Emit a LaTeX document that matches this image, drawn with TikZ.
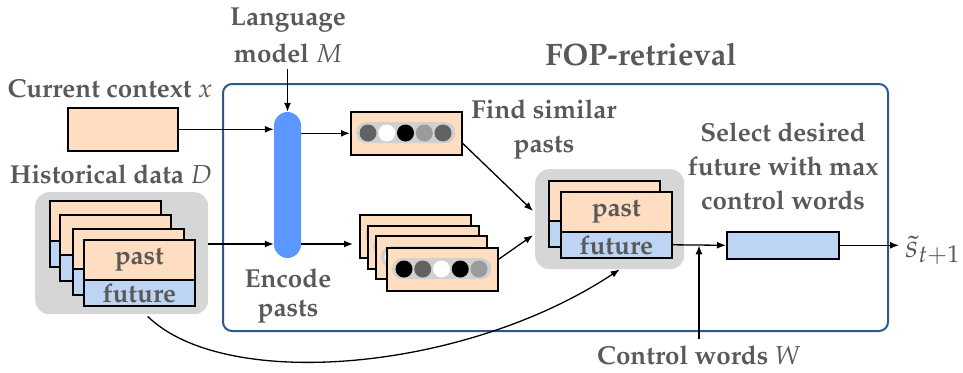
\documentclass[tikz,border=0pt]{standalone}
\usepackage[T1]{fontenc}
\usepackage{mathpazo}
\usetikzlibrary{arrows.meta,calc}
\definecolor{peach}{HTML}{FFDDC1}
\definecolor{futblue}{HTML}{BDD4F2}
\definecolor{pillblue}{HTML}{5B97FF}
\definecolor{fopblue}{HTML}{2D5A8B}
\definecolor{boxgray}{HTML}{D6D6D6}
\definecolor{bargray}{HTML}{D0D0D0}
\definecolor{tgray}{HTML}{595959}
\definecolor{cdk}{HTML}{626262}
\definecolor{cmid}{HTML}{9B9B9B}
\newcommand{\enccardat}[4]{%
  \node[enccard] (#1) at (#2,#3) {};
  \node[barbox] (#1bar) at (#2+6,#3+11) {};
  \foreach \cl [count=\k from 0] in {#4}
    \node[dotc, fill=\cl] (#1d\k) at (#2+18+\k*18.75,#3+22) {};
}
\newcommand{\histcardat}[5]{%
  \node[pastbox] (#1p) at (#2,#3) {#4};
  \node[futbox] (#1f) at (#2,#3+40) {#5};
}
\begin{document}
\begin{tikzpicture}[x=1pt,y=-1pt,
  txt/.style={text=tgray, font=\fontsize{26}{34}\selectfont\bfseries, align=center, inner sep=0pt},
  pastbox/.style={draw=black, line width=1.6pt, fill=peach, minimum width=111pt, minimum height=40pt,
    anchor=north west, inner sep=0pt, text=tgray, font=\fontsize{26}{30}\selectfont\bfseries},
  futbox/.style={pastbox, fill=futblue, minimum height=26pt},
  enccard/.style={draw=black, line width=1.6pt, fill=peach, minimum width=111pt, minimum height=43pt,
    anchor=north west, inner sep=0pt},
  barbox/.style={fill=bargray, rounded corners=10pt, minimum width=99pt, minimum height=21pt,
    anchor=north west, inner sep=0pt},
  dotc/.style={circle, minimum size=17pt, inner sep=0pt},
  graybox/.style={fill=boxgray, rounded corners=14pt, anchor=north west, inner sep=0pt},
  arr/.style={-{Latex[length=9pt,width=7pt]}, line width=1.3pt}]
\useasboundingbox (0,0) rectangle (963,372);

% FOP box
\node[draw=fopblue, line width=2pt, rounded corners=9pt, minimum width=665pt, minimum height=247pt,
  anchor=north west, inner sep=0pt] (fop) at (222,83) {};

% labels
\node[txt, anchor=north] (lang) at (288,8) {Language\\[3pt]model $M$};
\node[txt, font=\fontsize{31}{36}\selectfont\bfseries, anchor=base] (fopt) at (641,65) {FOP-retrieval};
\node[txt, anchor=base] (curt) at (110,97) {Current context $x$};
\node[txt, anchor=base] (histt) at (111,183) {Historical data $D$};
\node[txt, anchor=north] (findt) at (544,100) {Find similar\\pasts};
\node[txt, anchor=north] (selt) at (783,123) {Select desired\\future with max\\control words};
\node[txt, font=\fontsize{26}{29}\selectfont\bfseries, anchor=north] (enct) at (288,269) {Encode\\pasts};
\node[txt, anchor=base] (cwl) at (699,364) {Control words $W$};
\node[text=tgray, font=\fontsize{32}{38}\selectfont, anchor=base west, inner sep=0pt] (out) at (905,257) {$\tilde{s}_{t+1}$};

% current context box
\node[draw=black, line width=1.6pt, fill=peach, minimum width=110pt, minimum height=43pt,
  anchor=north west, inner sep=0pt] (cur) at (67,107) {};

% language model pill
\node[fill=pillblue, rounded corners=13.5pt, minimum width=27pt, minimum height=146pt, inner sep=0pt] (lm) at (287.5,185) {};

% historical data
\node[graybox, minimum width=173pt, minimum height=122pt] (hist) at (35,192) {};
\histcardat{h1}{49}{200}{}{}
\histcardat{h2}{59}{214}{}{}
\histcardat{h3}{72}{228}{}{}
\histcardat{h4}{83}{239}{past}{future}

% encoded current
\enccardat{enc}{350}{111}{cdk,white,black,cmid,cdk}

% encoded pasts
\enccardat{e1}{359}{214}{black,white,black,cmid,cmid}
\enccardat{e2}{367}{225}{black,white,black,cmid,black}
\enccardat{e3}{375}{235}{white,black,cmid,black,cmid}
\enccardat{e4}{386}{247}{black,cdk,white,black,cmid}

% selected
\node[graybox, minimum width=149pt, minimum height=100pt] (sbox) at (535,169) {};
\histcardat{sb}{548}{180}{}{}
\histcardat{sf}{560}{191}{past}{future}

% select box
\node[draw=black, line width=1.6pt, fill=futblue, minimum width=112pt, minimum height=27pt,
  anchor=north west, inner sep=0pt] (sel) at (726,231) {};

% connectors
\coordinate (r2) at (0,244);
\draw[arr, shorten <=6pt] (lm.north |- lang.south) -- (lm.north);
\draw[arr] (cur.east) -- (cur.east -| lm.west);
\draw[arr] (lm.east |- enc.west) -- (enc.west);
\draw[arr] (hist.east |- r2) -- (lm.west |- r2);
\draw[arr, shorten >=6pt] (lm.east |- r2) -- (e1.west |- r2);
\draw[arr] ($(enc.east)+(0,10)$) -- ($(sbox.north west)+(-2,42)$);
\draw[arr] ($(e4.east)+(0,-10)$) -- ($(sbox.west)+(-2,16)$);
\draw[arr] ($(hist.south)+(26,2)$) .. controls (225,392) and (465,372) .. ($(sbox.south)+(10,0)$);
\draw[arr] (sff.east) -- (sel.west);
\draw[arr] ($(cwl.north)+(0,-6)$) -- (cwl.north |- sel.west);
\draw[arr, shorten >=6pt] (sel.east) -- (sel.east -| out.west);
\end{tikzpicture}
\end{document}
